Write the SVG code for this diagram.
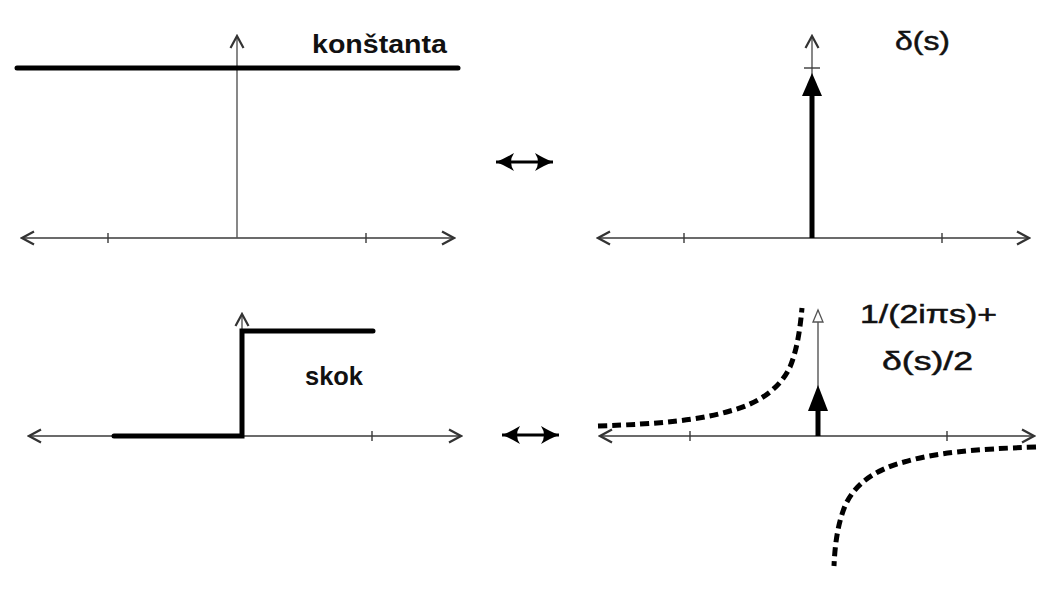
<svg xmlns="http://www.w3.org/2000/svg" width="1062" height="609" viewBox="0 0 1062 609">
<defs>
<marker id="chev" viewBox="-14 -8 16 16" refX="0" refY="0" markerWidth="16" markerHeight="16" markerUnits="userSpaceOnUse" orient="auto-start-reverse">
<path d="M-12,-6.5 L0,0 L-12,6.5" fill="none" stroke="#333" stroke-width="2.2" stroke-linejoin="miter"/>
</marker>
<marker id="hollow" viewBox="-14 -8 16 16" refX="0" refY="0" markerWidth="16" markerHeight="16" markerUnits="userSpaceOnUse" orient="auto">
<path d="M-12,-5 L0,0 L-12,5 Z" fill="#fff" stroke="#555" stroke-width="1.3"/>
</marker>
<marker id="dbl" viewBox="-20 -12 22 24" refX="0" refY="0" markerWidth="22" markerHeight="24" markerUnits="userSpaceOnUse" orient="auto-start-reverse">
<path d="M-18,-9 Q-8,-3 0,0 Q-8,3 -18,9 Q-12,0 -18,-9 Z" fill="#000"/>
</marker>
</defs>
<style>
.axis{stroke:#3a3a3a;stroke-width:1.6;fill:none}
.vaxis{stroke:#555;stroke-width:1.4;fill:none}
.thick{stroke:#000;stroke-width:5;fill:none;stroke-linecap:round;stroke-linejoin:miter}
.dash{stroke:#000;stroke-width:5;fill:none;stroke-dasharray:9 5}
.tick{stroke:#3a3a3a;stroke-width:1.4}
.lbl{font-family:"Liberation Sans",Arial,sans-serif;font-size:26px;fill:#111}
.m{stroke:#111;stroke-width:0.5}
.b{font-weight:bold}
</style>
<rect width="1062" height="609" fill="#fff"/>

<g id="panel-constant">
<line class="axis" x1="22" y1="238" x2="454" y2="238" marker-start="url(#chev)" marker-end="url(#chev)"/>
<line class="tick" x1="108" y1="233" x2="108" y2="243"/>
<line class="tick" x1="366" y1="233" x2="366" y2="243"/>
<line class="vaxis" x1="237" y1="238" x2="237" y2="36" marker-end="url(#chev)"/>
<line class="thick" x1="17" y1="68" x2="458" y2="68" stroke-width="5.5"/>
<text class="lbl b" x="312" y="53" textLength="135" lengthAdjust="spacingAndGlyphs">konštanta</text>
</g>

<g id="panel-delta">
<line class="axis" x1="598" y1="238" x2="1029" y2="238" marker-start="url(#chev)" marker-end="url(#chev)"/>
<line class="tick" x1="684" y1="233" x2="684" y2="243"/>
<line class="tick" x1="942" y1="233" x2="942" y2="243"/>
<line class="vaxis" x1="812" y1="238" x2="812" y2="36" marker-end="url(#chev)"/>
<line class="tick" x1="804" y1="68" x2="820" y2="68"/>
<line x1="812" y1="238" x2="812" y2="92" stroke="#000" stroke-width="5"/>
<path d="M812,73 L822,96 L802,96 Z" fill="#000"/>
<text class="lbl m" x="895" y="50" textLength="55" lengthAdjust="spacingAndGlyphs">δ(s)</text>
</g>

<g id="panel-step">
<line class="axis" x1="29" y1="436" x2="461" y2="436" marker-start="url(#chev)" marker-end="url(#chev)"/>
<line class="tick" x1="372" y1="431" x2="372" y2="441"/>
<line class="vaxis" x1="242" y1="436" x2="242" y2="314" marker-end="url(#chev)"/>
<path class="thick" d="M114,436 L242,436 L242,331 L373,331"/>
<text class="lbl b" x="305" y="385" textLength="58" lengthAdjust="spacingAndGlyphs">skok</text>
</g>

<g id="panel-hyper">
<line class="axis" x1="600" y1="436" x2="1034" y2="436" marker-start="url(#chev)" marker-end="url(#chev)"/>
<line class="tick" x1="690" y1="431" x2="690" y2="441"/>
<line class="tick" x1="947" y1="431" x2="947" y2="441"/>
<line class="vaxis" x1="818" y1="436" x2="818" y2="310" marker-end="url(#hollow)"/>
<line x1="818" y1="436" x2="818" y2="405" stroke="#000" stroke-width="5"/>
<path d="M818,385 L828,411 L808,411 Z" fill="#000"/>
<path class="dash" d="M598,426 C660,424 700,420 730,411 C760,403 780,388 790,367 C797,350 800,330 802,308"/>
<path class="dash" d="M1036,447 C974,449 934,453 904,462 C874,470 854,485 845,506 C838,523 835,543 834,566"/>
<text class="lbl m" x="860" y="323" textLength="137" lengthAdjust="spacingAndGlyphs">1/(2iπs)+</text>
<text class="lbl m" x="882" y="370" textLength="91" lengthAdjust="spacingAndGlyphs">δ(s)/2</text>
</g>

<g id="connectors">
<line x1="496" y1="162" x2="553" y2="162" stroke="#000" stroke-width="3" marker-start="url(#dbl)" marker-end="url(#dbl)"/>
<line x1="502" y1="435" x2="559" y2="435" stroke="#000" stroke-width="3" marker-start="url(#dbl)" marker-end="url(#dbl)"/>
</g>
</svg>
